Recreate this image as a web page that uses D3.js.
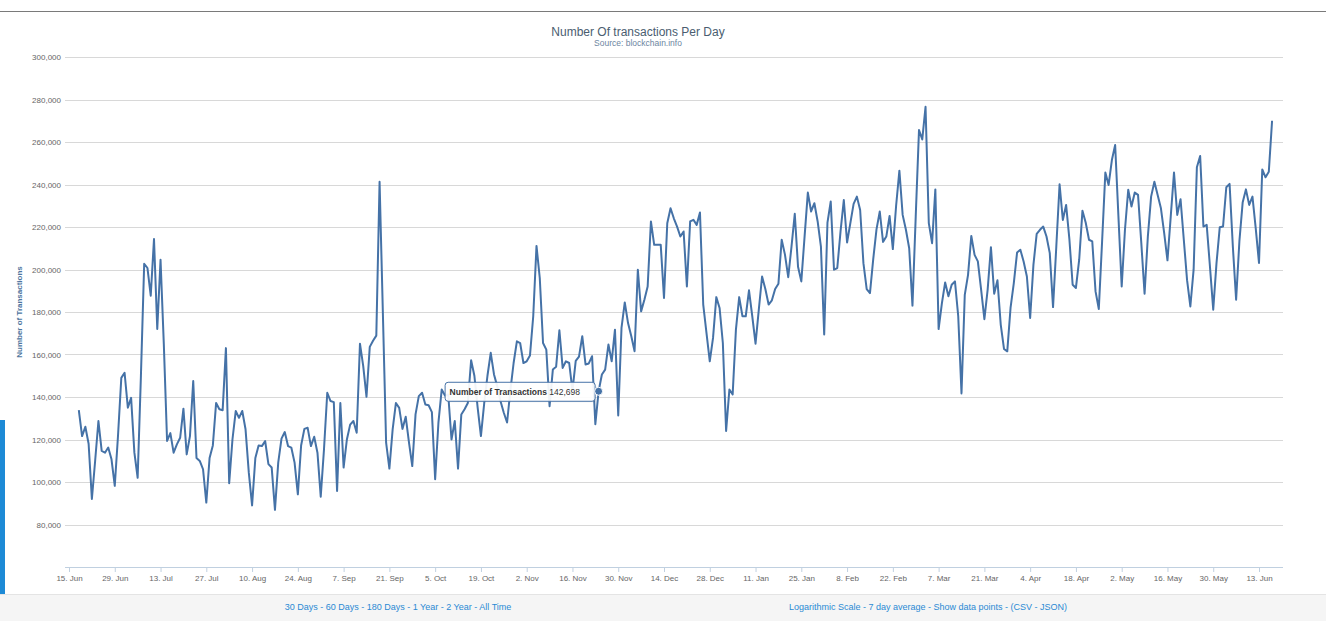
<!DOCTYPE html>
<html>
<head>
<meta charset="utf-8">
<script src="https://cdn.jsdelivr.net/npm/d3@7/dist/d3.min.js"></script>
<style>
  html, body { margin: 0; padding: 0; background: #fff; }
  body { width: 1326px; height: 621px; overflow: hidden; }
  svg { display: block; font-family: "Liberation Sans", Arial, sans-serif; }
</style>
</head>
<body>
<svg id="chart" width="1326" height="621"></svg>
<script>
// ------------------------------------------------------------
// data: daily transaction counts, one value per day from startDay
// ------------------------------------------------------------
var startDay = '2015-06-18';

var transactions = [
  133800, 121600, 126000, 118000, 92000, 110000, 128700, 114600, 113800, 116200,
  110700, 98200, 122000, 149000, 151400, 135000, 139600, 113800, 102000, 150000,
  202700, 200700, 187700, 214300, 172000, 204600, 165000, 119300, 123000, 113800,
  117700, 120800, 134500, 113000, 121600, 147500, 111300, 109900, 106000, 90300,
  111300, 117200, 137200, 134200, 133800, 163000, 99400, 120000, 133400, 130200,
  133400, 124800, 104400, 89000, 111300, 117200, 116900, 119300, 108400, 106800,
  86900, 109100, 120400, 123500, 116900, 116200, 109100, 94200, 117200, 125000,
  125500, 116900, 121300, 113800, 93100, 115400, 142000, 138100, 137600, 95800,
  137200, 106800, 120000, 127000, 128700, 123200, 165100, 154500, 140100, 163600,
  166500, 168900, 241300, 180000, 118500, 106300, 124800, 137200, 134900, 125000,
  130700, 118500, 107500, 131800, 140400, 142000, 136500, 136100, 132900, 101300,
  127900, 143500, 140700, 141200, 120000, 128700, 106300, 131800, 134200, 137200,
  157300, 150000, 135000, 121600, 137000, 150000, 160800, 150600, 145000, 138000,
  132600, 128000, 143000, 156000, 166200, 165400, 156000, 156800, 159500, 178000,
  211100, 196000, 165400, 162300, 135700, 152900, 154200, 171400, 153700, 156800,
  156000, 143000, 157000, 159000, 168600, 155300, 155800, 159200, 127200, 142698,
  150600, 152900, 164700, 156800, 171700, 131300, 172500, 184500, 174800, 168600,
  161500, 199900, 180300, 185800, 192000, 222600, 211600, 211600, 211600, 186600,
  221800, 228800, 224100, 220200, 215500, 217900, 192000, 222600, 223400, 221000,
  226800, 183500, 170100, 156800, 167800, 187000, 181900, 165400, 124000, 143500,
  141200, 171700, 187000, 178000, 178000, 190200, 178000, 165100, 181100, 196700,
  190800, 183500, 185500, 190800, 193300, 214000, 207000, 196400, 210800, 226200,
  201300, 194400, 215500, 236200, 227300, 231200, 222600, 210800, 169400, 222100,
  232000, 199900, 200700, 217900, 232700, 212700, 221800, 230900, 234300, 228000,
  203000, 190800, 188900, 204900, 218900, 227300, 213000, 215500, 225200, 209600,
  230000, 246500, 225700, 218700, 210000, 183000, 225000, 265600, 261200, 276600,
  221800, 212400, 237700, 172000, 184100, 193900, 187400, 192800, 194400, 178000,
  141700, 188100, 197500, 215800, 206900, 203800, 190500, 176600, 190500, 210500,
  188600, 194900, 174100, 162600, 161500, 181900, 193600, 208000, 209300, 203800,
  196700, 177200, 202200, 216800, 218700, 220200, 215500, 207700, 182300, 210800,
  240100, 223300, 230400, 214300, 192800, 191300, 204600, 227700, 222000, 214000,
  213200, 189700, 181400, 213000, 245600, 239800, 251500, 258600, 225000, 192000,
  218700, 237500, 229600, 236200, 235100, 212400, 188600, 215500, 234300, 241300,
  235100, 228800, 217100, 204300, 224900, 245600, 225700, 233100, 214000, 195000,
  182600, 199900, 248100, 253400, 220200, 221000, 201300, 181100, 203000, 219900,
  220200, 238700, 240300, 210800, 185800, 213200, 231500, 237700, 230400, 234300,
  219400, 203100, 247100, 243400, 246000, 270000
];

var yTicks = [80000, 100000, 120000, 140000, 160000, 180000, 200000, 220000,
              240000, 260000, 280000, 300000];

var xTickDates = ['2015-06-15', '2015-06-29', '2015-07-13', '2015-07-27', '2015-08-10',
                  '2015-08-24', '2015-09-07', '2015-09-21', '2015-10-05', '2015-10-19',
                  '2015-11-02', '2015-11-16', '2015-11-30', '2015-12-14', '2015-12-28',
                  '2016-01-11', '2016-01-25', '2016-02-08', '2016-02-22', '2016-03-07',
                  '2016-03-21', '2016-04-04', '2016-04-18', '2016-05-02', '2016-05-16',
                  '2016-05-30', '2016-06-13'];

var rangeLinks  = ['30 Days', '60 Days', '180 Days', '1 Year', '2 Year', 'All Time'];
var optionLinks = ['Logarithmic Scale', '7 day average', 'Show data points', '(CSV', 'JSON)'];

var tooltipDay = '2015-11-24';

// ------------------------------------------------------------
// layout
// ------------------------------------------------------------
var width      = 1326,
    height     = 621,
    plotLeft   = 65,
    plotRight  = 1283,
    plotTop    = 57,
    plotBottom = 567,
    footerTop  = 594,
    lineColour = '#4572a7',
    linkColour = '#2a8ad4',
    parseDay   = d3.utcParse('%Y-%m-%d'),
    fmtTick    = d3.utcFormat('%-d. %b'),
    fmtNum     = d3.format(',');

var data = transactions.map(function(v, i){
	return { date: d3.utcDay.offset(parseDay(startDay), i), value: v };
});

var svg = d3.select('#chart');

// x scale: 15 Jun 2015 .. 13 Jun 2016 sit at 69 .. 1259
var firstTick = parseDay(xTickDates[0]),
    lastTick  = parseDay(xTickDates[xTickDates.length - 1]);
var x = d3.scaleUtc()
	.domain([firstTick, lastTick])
	.range([69, 1259]);

var y = d3.scaleLinear()
	.domain([60000, 300000])
	.range([plotBottom, plotTop]);

// top rule
svg.append('line')
	.attr('x1', 0).attr('x2', width)
	.attr('y1', 11.5).attr('y2', 11.5)
	.attr('stroke', '#7a7a7a')
	.attr('stroke-width', 1);

// title
svg.append('text')
	.attr('x', 638).attr('y', 36)
	.attr('text-anchor', 'middle')
	.style('font-size', '12px')
	.style('fill', '#4a5d70')
	.text('Number Of transactions Per Day');

svg.append('text')
	.attr('x', 638).attr('y', 46)
	.attr('text-anchor', 'middle')
	.style('font-size', '8.5px')
	.style('fill', '#6d869f')
	.text('Source: blockchain.info');

// gridlines + y labels
var grid = svg.append('g').attr('class', 'grid');
grid.selectAll('line')
	.data(yTicks)
	.enter().append('line')
	.attr('x1', plotLeft).attr('x2', plotRight)
	.attr('y1', function(d){ return Math.round(y(d)) + 0.5; })
	.attr('y2', function(d){ return Math.round(y(d)) + 0.5; })
	.attr('stroke', '#d8d8d8')
	.attr('stroke-width', 1);

grid.selectAll('text')
	.data(yTicks)
	.enter().append('text')
	.attr('x', 61)
	.attr('y', function(d){ return y(d) + 3; })
	.attr('text-anchor', 'end')
	.style('font-size', '8px')
	.style('fill', '#666')
	.text(function(d){ return fmtNum(d); });

// y axis title
svg.append('text')
	.attr('transform', 'translate(22,' + ((plotTop + plotBottom) / 2) + ') rotate(-90)')
	.attr('text-anchor', 'middle')
	.style('font-size', '8px')
	.style('font-weight', 'bold')
	.style('fill', '#4d759e')
	.text('Number of Transactions');

// x axis
var xAxis = d3.axisBottom(x)
	.tickValues(xTickDates.map(parseDay))
	.tickFormat(fmtTick)
	.tickSize(5)
	.tickSizeOuter(0);

var xg = svg.append('g')
	.attr('transform', 'translate(0,' + plotBottom + ')')
	.call(xAxis);

xg.select('.domain')
	.attr('d', 'M' + plotLeft + ',0.5H' + plotRight)
	.attr('stroke', '#c0d0e0');
xg.selectAll('.tick line').attr('stroke', '#c0d0e0');
xg.selectAll('.tick text')
	.attr('y', 8)
	.style('font-size', '8px')
	.style('font-family', '"Liberation Sans", Arial, sans-serif')
	.style('fill', '#666');

// series line
var line = d3.line()
	.x(function(d){ return x(d.date); })
	.y(function(d){ return y(d.value); });

svg.append('path')
	.datum(data)
	.attr('d', line)
	.attr('fill', 'none')
	.attr('stroke', lineColour)
	.attr('stroke-width', 2)
	.attr('stroke-linejoin', 'round');

// tooltip for the hovered point
var tipPoint = data.filter(function(d){ return +d.date === +parseDay(tooltipDay); })[0];
var tx = x(tipPoint.date),
    ty = y(tipPoint.value);

var tip = svg.append('g')
	.attr('transform', 'translate(' + (tx - 154) + ',' + (ty - 9.5) + ')');

tip.append('rect')
	.attr('x', 1.5).attr('y', 1.5)
	.attr('width', 150).attr('height', 19)
	.attr('rx', 3).attr('ry', 3)
	.attr('fill', 'rgba(0,0,0,0.08)');

tip.append('rect')
	.attr('x', 0.5).attr('y', 0.5)
	.attr('width', 150).attr('height', 19)
	.attr('rx', 3).attr('ry', 3)
	.attr('fill', 'rgba(255,255,255,0.92)')
	.attr('stroke', lineColour)
	.attr('stroke-width', 1);

var tipText = tip.append('text')
	.attr('x', 5).attr('y', 13.5)
	.style('font-size', '8.5px')
	.style('fill', '#333');
tipText.append('tspan')
	.style('font-weight', 'bold')
	.text('Number of Transactions');
tipText.append('tspan')
	.text(' ' + fmtNum(tipPoint.value));

svg.append('circle')
	.attr('cx', tx).attr('cy', ty)
	.attr('r', 4)
	.attr('fill', lineColour)
	.attr('stroke', '#fff')
	.attr('stroke-width', 1);

// footer band
svg.append('rect')
	.attr('x', 0).attr('y', footerTop)
	.attr('width', width).attr('height', height - footerTop)
	.attr('fill', '#f5f5f5');
svg.append('line')
	.attr('x1', 0).attr('x2', width)
	.attr('y1', footerTop + 0.5).attr('y2', footerTop + 0.5)
	.attr('stroke', '#e4e4e4');

// left side bar
svg.append('rect')
	.attr('x', 0).attr('y', 420)
	.attr('width', 5).attr('height', footerTop - 420)
	.attr('fill', '#1d8ad6');

function linkRow(items, seps, cx){
	var t = svg.append('text')
		.attr('x', cx).attr('y', 610)
		.attr('text-anchor', 'middle')
		.style('font-size', '9px')
		.style('fill', linkColour);
	items.forEach(function(s, i){
		if(i > 0) t.append('tspan').text(seps[i - 1]);
		t.append('tspan').text(s);
	});
}

linkRow(rangeLinks, [' - ', ' - ', ' - ', ' - ', ' - '], 398);
linkRow(optionLinks, [' - ', ' - ', ' - ', ' - '], 928);
</script>
</body>
</html>
